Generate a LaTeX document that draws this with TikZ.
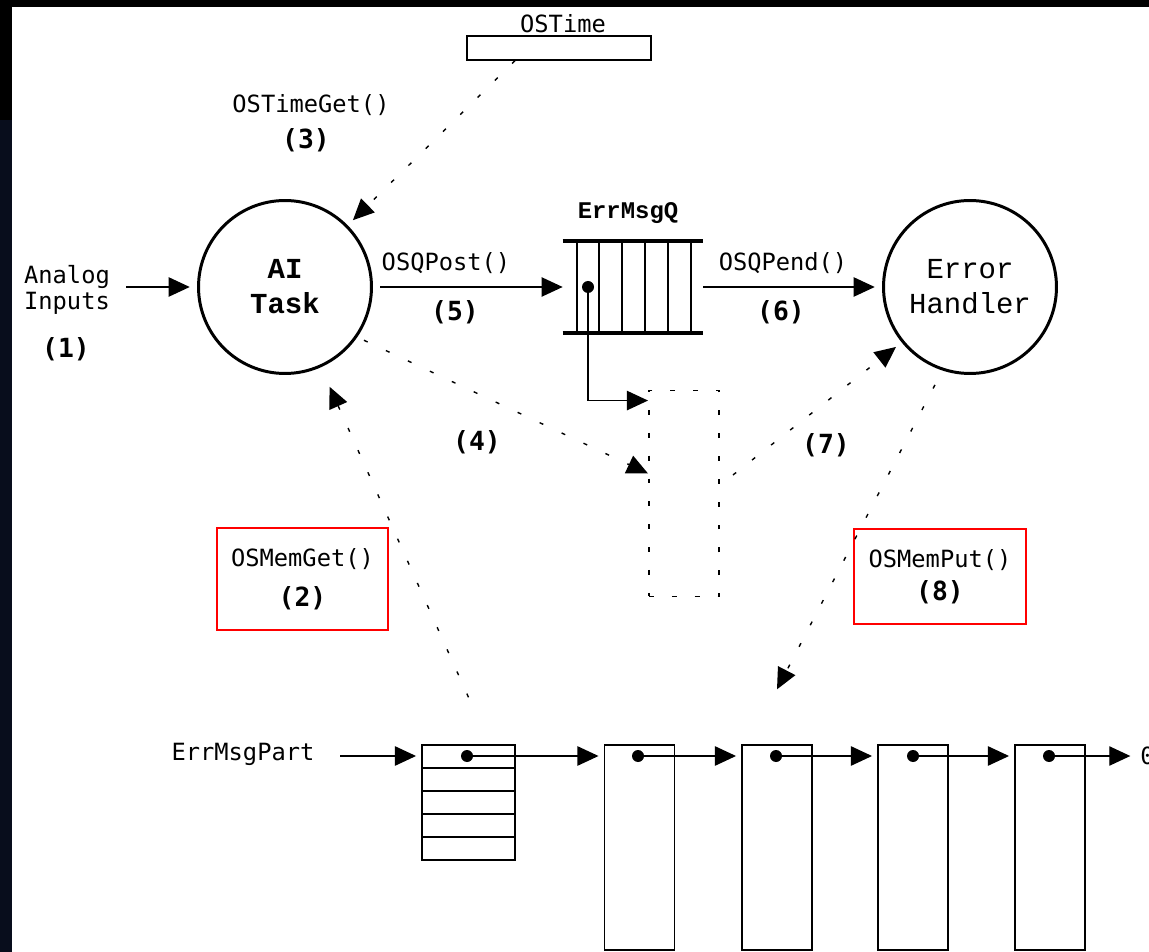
\documentclass[tikz,border=0pt]{standalone}
\usepackage{fontspec}
\usetikzlibrary{arrows.meta}
\newfontfamily\thinmono{DejaVu Sans Mono}
\newfontfamily\courmono{Liberation Mono}
\definecolor{navy}{RGB}{8,13,28}

\begin{document}
\begin{tikzpicture}[x=0.02cm, y=-0.02cm,
  lbl/.style={font=\thinmono\fontsize{13.5}{14.5}\selectfont, inner sep=0},
  num/.style={font=\thinmono\bfseries\fontsize{15}{16}\selectfont, inner sep=0},
  task/.style={draw, circle, line width=1.7pt, minimum size=3.46cm, inner sep=0, outer sep=5pt, align=center, font=\courmono\fontsize{16.5}{20}\selectfont},
  arr/.style={-{Triangle[length=12pt, width=11pt]}, line width=0.8pt},
  dotarr/.style={arr, dash pattern=on 2.3pt off 11.5pt},
  blk/.style={draw, line width=0.8pt, minimum width=1.4cm, minimum height=4.1cm, inner sep=0},
  dot/.style={circle, fill, inner sep=0, minimum size=0.24cm},
  memo/.style={draw=red, line width=0.8pt, align=center, inner sep=0, font=\thinmono\fontsize{13.5}{14.5}\selectfont}]

\clip (0,0) rectangle (1149,952);
\fill [black] (0,0) rectangle (1149,952);
\fill [navy] (0,120) rectangle (12,952);
\fill [white] (12,7) rectangle (1149,952);

% tasks and queue
\node (ostime) [draw, line width=0.8pt, minimum width=3.68cm, minimum height=0.48cm, inner sep=0] at (559,48) {};
\node [lbl] at (563,24) {OSTime};

\node (ai) [task, font=\courmono\bfseries\fontsize{16.5}{20}\selectfont] at (285,287) {AI\\Task};
\node (eh) [task] at (970,287) {Error\\Handler};

\node (errq) [minimum width=2.8cm, minimum height=1.84cm, inner sep=0] at (633,287) {};
\draw [line width=2.3pt] (errq.north west) -- (errq.north east);
\draw [line width=2.3pt] (errq.south west) -- (errq.south east);
\foreach \x in {577,599,622,645,668,691}
  \draw [line width=0.8pt] (\x,241) -- (\x,333);
\node (qdot) [dot] at (588,287) {};
\node [font=\courmono\bfseries\fontsize{13.6}{14}\selectfont] at (628,213) {ErrMsgQ};

\node (msgbox) [draw, line width=1.1pt, dash pattern=on 2.8pt off 10.2pt, minimum width=1.4cm, minimum height=4.12cm, inner sep=0] at (684,493.5) {};

\node (analog) [lbl, align=center] at (67,290) {Analog\\Inputs};

\draw [arr, shorten <=9pt] (analog.east |- ai) -- (ai);
\draw [arr] (ai) -- (errq);
\draw [arr] (errq) -- (eh);
\draw [arr] (qdot.center) |- ([yshift=-0.22cm]msgbox.north west);

% labels
\node [lbl] at (311,105) {OSTimeGet()};
\node [num] at (306,140) {(3)};
\node [num] at (66,349) {(1)};
\node [lbl] at (446,263) {OSQPost()};
\node [num] at (455,312) {(5)};
\node [lbl] at (783,263) {OSQPend()};
\node [num] at (781,312) {(6)};
\node [num] at (477,442) {(4)};
\node [num] at (826,445) {(7)};

\node (memget) [memo, minimum width=3.42cm, minimum height=2.04cm] at (302.5,579) {OSMemGet()\\[8pt]{\bfseries\fontsize{15}{16}\selectfont (2)}};
\node (memput) [memo, minimum width=3.44cm, minimum height=1.9cm] at (940,576.5) {OSMemPut()\\[4pt]{\bfseries\fontsize{15}{16}\selectfont (8)}};

% partition
\node (partlbl) [lbl] at (243,754) {ErrMsgPart};
\node (part) [blk, minimum width=1.86cm, minimum height=2.3cm] at (468.5,802.5) {};
\foreach \y in {768,791,814,837}
  \draw [line width=0.8pt] (422,\y) -- (515,\y);
\node (pdot) [dot] at (467,756) {};
\foreach \n/\x in {1/639.5, 2/777, 3/913, 4/1050}
  \node (b\n) [blk] at (\x,847.5) {};
\foreach \n/\x in {1/638, 2/776, 3/913, 4/1049}
  \node (d\n) [dot] at (\x,756) {};
\node (nil) [lbl, anchor=west] at (1140,756) {0};

\draw [arr, shorten <=14.5pt, shorten >=3pt] (partlbl.east |- pdot) -- (part.west |- pdot);
\draw [arr, shorten >=3pt] (pdot.center) -- (pdot -| b1.west);
\foreach \a/\b in {1/2, 2/3, 3/4}
  \draw [arr, shorten >=3pt] (d\a.center) -- (d\a -| b\b.west);
\draw [arr, shorten >=5.5pt] (d4.center) -- (nil);

% dotted calls
\draw [dotarr] ([xshift=-0.88cm]ostime.south) -- (ai);
\draw [dotarr] (ai.-34) -- ([yshift=0.4cm]msgbox.west);
\draw [dotarr] ([shift={(0.26cm,0.37cm)}]msgbox.east) -- (eh.-141);
\draw [dotarr, shorten >=8pt] ([yshift=0.94cm]part.north) -- (ai);
\draw [dotarr, shorten <=5pt] (eh.-109) -- ([yshift=1.1cm]b2.north);
\end{tikzpicture}
\end{document}
